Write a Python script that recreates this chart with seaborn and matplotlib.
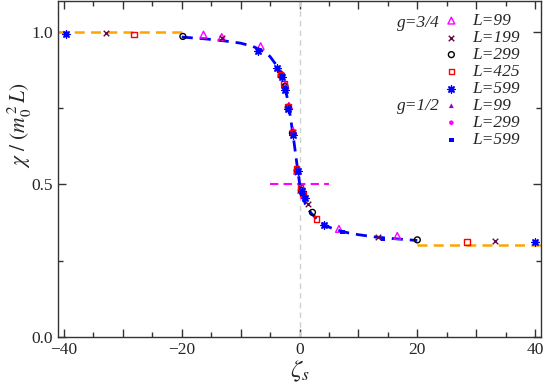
import numpy as np
import pandas as pd
import matplotlib
matplotlib.use("Agg")
import matplotlib.pyplot as plt
from matplotlib.ticker import MultipleLocator, FuncFormatter
import seaborn as sns

# fitted scaling curve
curve_x = [-20, -16, -13, -10, -8, -6, -5, -4, -3, -2.5, -2, -1.5, -1, -0.5, 0,
           0.5, 1, 1.5, 2, 3, 4, 5, 6, 8, 10, 13, 16, 20]
curve_y = [0.982, 0.976, 0.970, 0.962, 0.952, 0.935, 0.918, 0.892, 0.855, 0.822,
           0.775, 0.715, 0.648, 0.575, 0.505, 0.462, 0.435, 0.418, 0.405, 0.385,
           0.370, 0.360, 0.352, 0.342, 0.335, 0.327, 0.322, 0.316]

# asymptotes
left_x = [-41, -20]
left_y = [1.0, 1.0]
right_x = [20, 41]
right_y = [0.3, 0.3]
mid_x = [-5, 5]
mid_y = [0.5, 0.5]

# g=3/4
g34_L99_x = [-16.3, -13.2, -6.6, -3.1, -2.4, -1.8, -1.1, -0.4, 0.3, 0.8, 6.7, 16.6]
g34_L99_y = [0.990, 0.982, 0.952, 0.862, 0.825, 0.757, 0.675, 0.545, 0.482, 0.465, 0.354, 0.331]
g34_L199_x = [-32.9, -13.2, -3.1, -2.5, -1.9, -1.15, -0.35, 0.35, 1.5, 13.4, 33.2]
g34_L199_y = [0.995, 0.979, 0.858, 0.820, 0.750, 0.670, 0.540, 0.480, 0.436, 0.328, 0.315]
g34_L299_x = [-19.8, -3.1, -2.5, -1.9, -1.2, -0.4, 0.3, 2.2, 20.0]
g34_L299_y = [0.984, 0.858, 0.820, 0.752, 0.668, 0.545, 0.480, 0.408, 0.318]
g34_L425_x = [-28.1, -3.2, -2.6, -2.0, -1.2, -0.5, 0.2, 0.6, 2.9, 28.4]
g34_L425_y = [0.990, 0.860, 0.830, 0.755, 0.670, 0.550, 0.490, 0.470, 0.387, 0.311]
g34_L599_x = [-39.6, -7.0, -3.9, -3.0, -2.5, -1.9, -1.1, -0.3, 0.4, 0.9, 4.2, 39.9]
g34_L599_y = [0.992, 0.936, 0.881, 0.850, 0.810, 0.745, 0.662, 0.545, 0.478, 0.455, 0.367, 0.311]
# g=1/2
g12_L99_x = [-3.1, -2.4, -1.9, -1.1, -0.4, 0.3]
g12_L99_y = [0.855, 0.820, 0.750, 0.665, 0.550, 0.480]
g12_L299_x = [-3.0, -2.5, -1.9, -1.1, -0.35, 0.4]
g12_L299_y = [0.852, 0.815, 0.748, 0.662, 0.545, 0.478]
g12_L599_x = [-6.9, -3.0, -2.5, -1.9, -1.1, -0.3, 0.5, 7.3, 14.2]
g12_L599_y = [0.940, 0.855, 0.815, 0.745, 0.660, 0.540, 0.470, 0.344, 0.321]

sns.set_style("ticks")
plt.rcParams['font.family'] = ['Liberation Serif', 'DejaVu Serif']
plt.rcParams['mathtext.fontset'] = 'stix'

fig = plt.figure(figsize=(5.45, 3.84), dpi=100)
ax = fig.add_axes([0.1064, 0.1224, 0.8863, 0.8750])

ax.axvline(0, color='#d0d0d0', lw=1, ls=(0, (4, 3)), zorder=1)
sns.lineplot(x=left_x, y=left_y, color='orange', lw=1.8, ls=(0, (4, 2.5)), ax=ax)
sns.lineplot(x=right_x, y=right_y, color='orange', lw=1.8, ls=(0, (4, 2.5)), ax=ax)
sns.lineplot(x=mid_x, y=mid_y, color='magenta', lw=1.5, ls=(0, (4, 2.5)), ax=ax)
sns.lineplot(x=curve_x, y=curve_y, color='blue', lw=2.0, ls=(0, (4, 2.5)), ax=ax,
             sort=False)

open_kw = dict(linewidth=1.0, ax=ax, zorder=3)
sns.scatterplot(x=g34_L99_x, y=g34_L99_y, marker='^', s=24, facecolor='none',
                edgecolor='magenta', label='L=99', **open_kw)
sns.scatterplot(x=g34_L199_x, y=g34_L199_y, marker='x', s=16, color='#670748',
                label='L=199', **open_kw)
sns.scatterplot(x=g34_L299_x, y=g34_L299_y, marker='o', s=18, facecolor='none',
                edgecolor='black', label='L=299', **open_kw)
sns.scatterplot(x=g34_L425_x, y=g34_L425_y, marker='s', s=16, facecolor='none',
                edgecolor='red', label='L=425', **open_kw)
sns.scatterplot(x=g12_L99_x, y=g12_L99_y, marker='^', s=12, color='#9400d3',
                edgecolor='none', label='L=99 ', ax=ax, zorder=3)
sns.scatterplot(x=g12_L299_x, y=g12_L299_y, marker='o', s=11, color='magenta',
                edgecolor='none', label='L=299 ', ax=ax, zorder=3)
sns.scatterplot(x=g34_L599_x, y=g34_L599_y, marker=(8, 2, 0), s=26, color='blue',
                label='L=599', **open_kw)
sns.scatterplot(x=g12_L599_x, y=g12_L599_y, marker='s', s=10, color='blue',
                edgecolor='none', label='L=599 ', ax=ax, zorder=3)

ax.set_xlim(-41, 41)
ax.set_ylim(0, 1.1)
ax.xaxis.set_major_locator(MultipleLocator(10))
ax.xaxis.set_minor_locator(MultipleLocator(5))
ax.xaxis.set_major_formatter(FuncFormatter(
    lambda v, p: '' if round(v) % 20 else f'{int(round(v))}'.replace('-', '\u2212')))
ax.yaxis.set_major_locator(MultipleLocator(0.5))
ax.yaxis.set_minor_locator(MultipleLocator(0.25))
ax.yaxis.set_major_formatter(FuncFormatter(lambda v, p: f'{v:.1f}'))
ax.tick_params(which='both', direction='in', top=True, right=True, labelsize=12.5,
               color='#333333', pad=3.5)
ax.tick_params(which='major', length=6, width=1)
ax.tick_params(which='minor', length=3.5, width=1)
for s in ax.spines.values():
    s.set_color('#333333')
    s.set_linewidth(1)

ax.set_xlabel(r'$\zeta_s$', fontsize=18, labelpad=0.5)
ax.set_ylabel(r'$\chi\ /\ (m_0^{\,2}\,L)$', fontsize=15.5)
ax.yaxis.set_label_coords(-0.05, 0.63)

handles, labels = ax.get_legend_handles_labels()
order = ['L=99', 'L=199', 'L=299', 'L=425', 'L=599', 'L=99 ', 'L=299 ', 'L=599 ']
hmap = dict(zip(labels, handles))
leg = ax.legend([hmap[k] for k in order], [k.strip() for k in order],
                loc='upper left', bbox_to_anchor=(0.782, 0.985), frameon=False,
                handlelength=1.0, handletextpad=0.7, labelspacing=0.05,
                borderaxespad=0, prop={'family': 'Liberation Serif',
                                       'style': 'italic', 'size': 12.5})
ax.text(0.79, 0.935, 'g=3/4', transform=ax.transAxes, ha='right', va='center',
        fontsize=12.5, style='italic')
ax.text(0.79, 0.688, 'g=1/2', transform=ax.transAxes, ha='right', va='center',
        fontsize=12.5, style='italic')

fig.savefig('out.png', dpi=100)
